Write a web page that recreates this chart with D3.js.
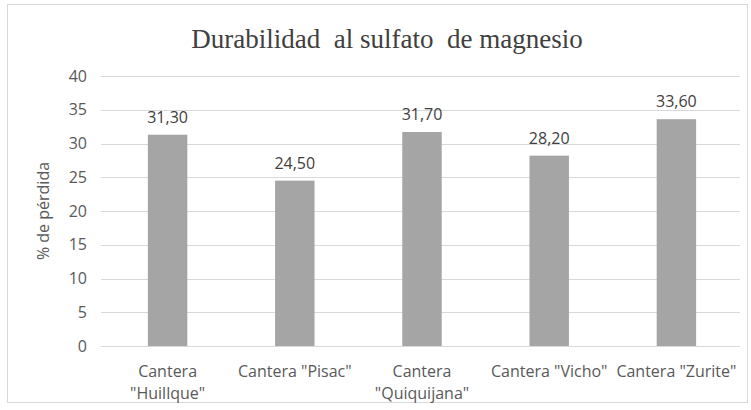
<!DOCTYPE html>
<html>
<head>
<meta charset="utf-8">
<script src="https://cdn.jsdelivr.net/npm/d3@7"></script>
<style>
  body { margin: 0; background: #fff; }
  .sans { font-family: "Open Sans", "Noto Sans", sans-serif; }
  .title { font-family: "Liberation Serif", "Times New Roman", Tinos, "DejaVu Serif", serif; white-space: pre; }
</style>
</head>
<body>
<svg id="chart" width="751" height="410"></svg>
<script>
// chart data
const categories = [
  ['Cantera', '"Huillque"'],
  ['Cantera "Pisac"'],
  ['Cantera', '"Quiquijana"'],
  ['Cantera "Vicho"'],
  ['Cantera "Zurite"']
];
const values = [31.3, 24.5, 31.7, 28.2, 33.6];
const yTicks = [0, 5, 10, 15, 20, 25, 30, 35, 40];

const width = 751, height = 410;
const margin = { top: 76, right: 11, bottom: 64, left: 104 };

const svg = d3.select('#chart');

// outer chart border
svg.append('rect')
  .attr('x', 7.5).attr('y', 4.5)
  .attr('width', 740).attr('height', 398)
  .attr('fill', '#fff')
  .attr('stroke', '#d9d9d9');

const x = d3.scaleBand()
  .domain(d3.range(categories.length))
  .range([margin.left, width - margin.right])
  .paddingInner(0.69)
  .paddingOuter(0.345);

const y = d3.scaleLinear()
  .domain([0, 40])
  .range([height - margin.bottom, margin.top]);

// gridlines
svg.append('g')
  .selectAll('line')
  .data(yTicks)
  .enter()
  .append('line')
  .attr('x1', margin.left - 3)
  .attr('x2', width - margin.right)
  .attr('y1', d => Math.round(y(d)) + 0.5)
  .attr('y2', d => Math.round(y(d)) + 0.5)
  .attr('stroke', '#d9d9d9')
  .attr('stroke-width', 1);

// y axis labels
const yAxis = d3.axisLeft(y).tickValues(yTicks).tickSize(0).tickPadding(17);
svg.append('g')
  .attr('transform', `translate(${margin.left},0)`)
  .call(yAxis)
  .call(g => g.select('.domain').remove())
  .call(g => g.attr('font-family', null).attr('font-size', null))
  .selectAll('text')
  .attr('class', 'sans')
  .style('font-size', '16px')
  .attr('fill', '#595959');

// bars
svg.append('g')
  .selectAll('rect')
  .data(values)
  .enter()
  .append('rect')
  .attr('x', (d, i) => x(i))
  .attr('y', d => y(d))
  .attr('width', x.bandwidth())
  .attr('height', d => y(0) - y(d))
  .attr('fill', '#a5a5a5');

// data labels
svg.append('g')
  .selectAll('text')
  .data(values)
  .enter()
  .append('text')
  .attr('class', 'sans')
  .attr('x', (d, i) => x(i) + x.bandwidth() / 2)
  .attr('y', d => y(d) - 12)
  .attr('text-anchor', 'middle')
  .style('font-size', '16px')
  .attr('fill', '#404040')
  .text(d => d.toFixed(2).replace('.', ','));

// category labels
const cat = svg.append('g')
  .selectAll('text')
  .data(categories)
  .enter()
  .append('text')
  .attr('class', 'sans')
  .attr('x', (d, i) => x(i) + x.bandwidth() / 2)
  .attr('y', y(0) + 31)
  .attr('text-anchor', 'middle')
  .style('font-size', '16px')
  .attr('fill', '#595959');

cat.selectAll('tspan')
  .data(d => d)
  .enter()
  .append('tspan')
  .attr('x', function () { return d3.select(this.parentNode).attr('x'); })
  .attr('dy', (d, i) => i === 0 ? 0 : 22)
  .text(d => d);

// y axis title
svg.append('text')
  .attr('class', 'sans')
  .attr('transform', `translate(49,${(y(0) + y(40)) / 2}) rotate(-90)`)
  .attr('text-anchor', 'middle')
  .style('font-size', '16px')
  .attr('fill', '#595959')
  .text('% de pérdida');

// chart title
svg.append('text')
  .attr('class', 'title')
  .attr('x', 387)
  .attr('y', 48)
  .attr('text-anchor', 'middle')
  .style('font-size', '27px')
  .attr('fill', '#404040')
  .text('Durabilidad  al sulfato  de magnesio');
</script>
</body>
</html>
